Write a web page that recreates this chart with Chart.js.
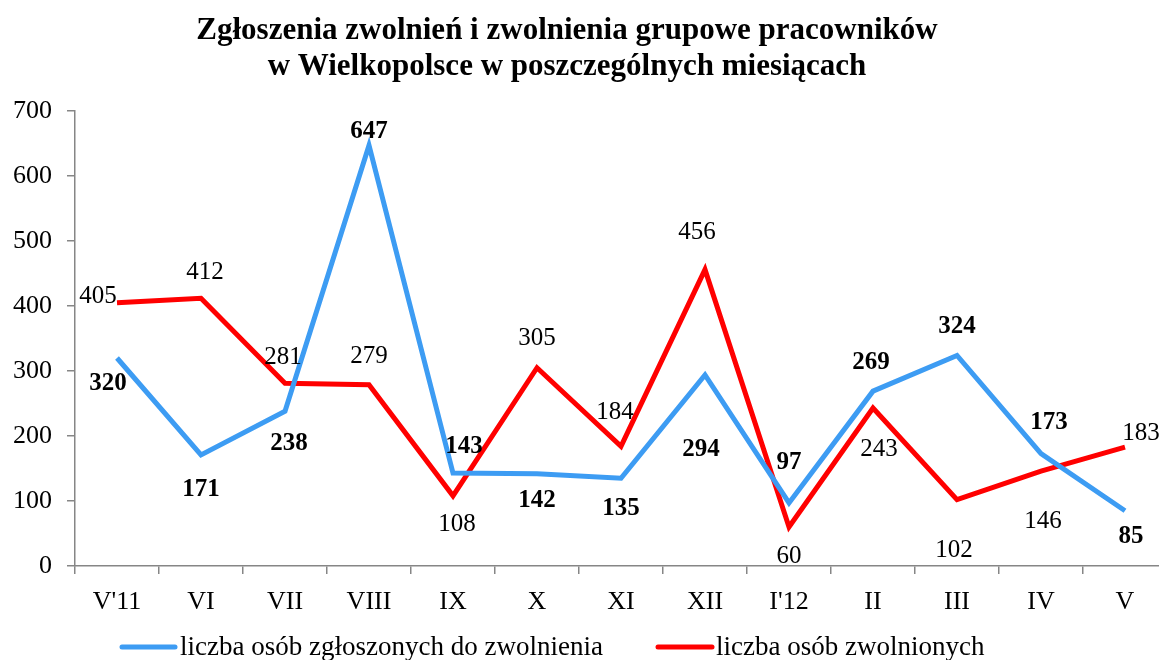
<!DOCTYPE html>
<html>
<head>
<meta charset="utf-8">
<script src="https://cdn.jsdelivr.net/npm/chart.js@4/dist/chart.umd.min.js"></script>
<style>
html, body { margin: 0; padding: 0; background: #fff; overflow: hidden; }
#wrap { width: 1172px; height: 660px; }
</style>
</head>
<body>
<div id="wrap"><canvas id="myChart" width="1172" height="660"></canvas></div>
<script>
let months = ["V'11", 'VI', 'VII', 'VIII', 'IX', 'X', 'XI', 'XII', "I'12", 'II', 'III', 'IV', 'V'];
let reported = [320, 171, 238, 647, 143, 142, 135, 294, 97, 269, 324, 173, 85];
let dismissed = [405, 412, 281, 279, 108, 305, 184, 456, 60, 243, 102, 146, 183];
let seriesNames = ['liczba osób zgłoszonych do zwolnienia', 'liczba osób zwolnionych'];
let titleLines = ['Zgłoszenia zwolnień i zwolnienia grupowe pracowników', 'w Wielkopolsce w poszczególnych miesiącach'];
let yMin = 0, yMax = 700, yStep = 100;

let colors = ['#3d9cf3', '#ff0000'];

// where each value label sits relative to its point (dx, dy)
let reportedOffsets = [[-9, 26], [0, 35], [4, 32], [0, -14], [11, -27], [0, 27], [0, 30], [-4, 75], [0, -40], [-2, -29], [0, -29], [8, -31], [6, 26]];
let dismissedOffsets = [[-19, -6], [4, -26], [-2, -26], [0, -28], [4, 29], [0, -29], [-6, -34], [-8, -37], [0, 29], [6, 41], [-3, 51], [2, 50], [16, -14]];

const serif = "'Liberation Serif', 'Times New Roman', serif";

const decorations = {
    id: 'decorations',
    afterDatasetsDraw(chart) {
        const ctx = chart.ctx;
        ctx.save();
        ctx.fillStyle = '#000';
        ctx.textAlign = 'center';
        ctx.textBaseline = 'middle';

        // value labels
        const offs = [reportedOffsets, dismissedOffsets];
        chart.data.datasets.forEach((ds, i) => {
            ctx.font = (i === 0 ? 'bold ' : '') + '25px ' + serif;
            chart.getDatasetMeta(i).data.forEach((pt, j) => {
                ctx.fillText(ds.data[j], pt.x + offs[i][j][0], pt.y + offs[i][j][1]);
            });
        });

        // title
        ctx.font = 'bold 31px ' + serif;
        ctx.fillText(titleLines[0], 567, 31);
        ctx.fillText(titleLines[1], 567, 67);

        // legend
        ctx.font = '27px ' + serif;
        ctx.textAlign = 'left';
        const legendX = [[122, 175, 180], [658, 712, 716]];
        chart.data.datasets.forEach((ds, i) => {
            ctx.strokeStyle = colors[i];
            ctx.lineWidth = 5;
            ctx.lineCap = 'round';
            ctx.beginPath();
            ctx.moveTo(legendX[i][0], 647);
            ctx.lineTo(legendX[i][1], 647);
            ctx.stroke();
            ctx.fillText(ds.label, legendX[i][2], 648);
        });
        ctx.restore();
    }
};

let myChart = new Chart(document.getElementById('myChart').getContext('2d'), {
    type: 'line',
    data: {
        labels: months,
        datasets: [
            {
                label: seriesNames[0],
                data: reported,
                borderColor: colors[0],
                backgroundColor: colors[0],
                borderWidth: 5,
                pointRadius: 0,
                tension: 0
            },
            {
                label: seriesNames[1],
                data: dismissed,
                borderColor: colors[1],
                backgroundColor: colors[1],
                borderWidth: 5,
                pointRadius: 0,
                tension: 0
            }
        ]
    },
    options: {
        responsive: false,
        animation: false,
        layout: {
            padding: { top: 111, right: 5, left: 0, bottom: 0 }
        },
        plugins: {
            legend: { display: false },
            title: { display: false },
            tooltip: { enabled: false }
        },
        scales: {
            x: {
                offset: true,
                grid: {
                    offset: true,
                    drawOnChartArea: false,
                    color: '#868686',
                    tickLength: 8,
                    lineWidth: 1.5
                },
                border: { color: '#868686', width: 1.5 },
                ticks: {
                    color: '#000',
                    font: { family: serif, size: 26 },
                    padding: 13,
                    maxRotation: 0
                },
                afterFit(scale) { scale.height = 94; }
            },
            y: {
                min: yMin,
                max: yMax,
                grid: {
                    drawOnChartArea: false,
                    color: '#868686',
                    tickLength: 8,
                    lineWidth: 1.5
                },
                border: { color: '#868686', width: 1.5 },
                ticks: {
                    stepSize: yStep,
                    color: '#000',
                    font: { family: serif, size: 26 },
                    padding: 15
                },
                afterFit(scale) { scale.width = 75; }
            }
        }
    },
    plugins: [decorations]
});
</script>
</body>
</html>
